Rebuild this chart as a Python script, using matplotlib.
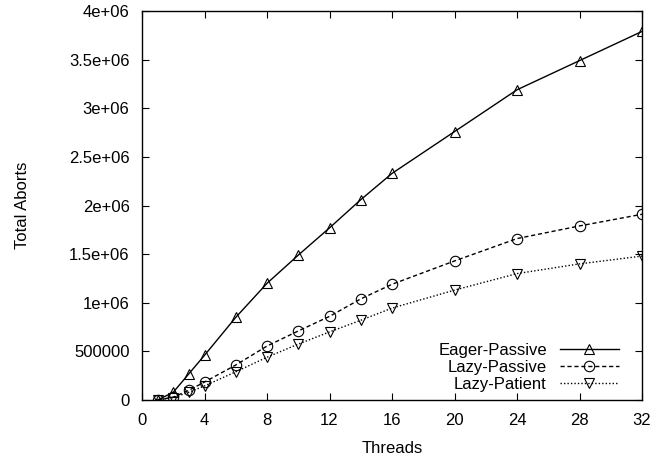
import matplotlib
matplotlib.use('Agg')
import matplotlib.pyplot as plt
import numpy as np

plt.rcParams['font.family'] = ['Liberation Sans', 'DejaVu Sans']

threads = [1, 2, 3, 4, 6, 8, 10, 12, 14, 16, 20, 24, 28, 32]
eager_passive = [0, 0.08e6, 0.27e6, 0.46e6, 0.85e6, 1.20e6, 1.49e6, 1.77e6,
                 2.06e6, 2.33e6, 2.76e6, 3.19e6, 3.49e6, 3.79e6]
lazy_passive = [0, 0.03e6, 0.10e6, 0.185e6, 0.36e6, 0.555e6, 0.71e6, 0.86e6,
                1.04e6, 1.19e6, 1.43e6, 1.66e6, 1.79e6, 1.91e6]
lazy_patient = [0, 0.025e6, 0.08e6, 0.145e6, 0.29e6, 0.44e6, 0.575e6, 0.70e6,
                0.82e6, 0.945e6, 1.13e6, 1.30e6, 1.40e6, 1.48e6]

fig = plt.figure(figsize=(6.5, 4.59), dpi=100)
ax = fig.add_axes([0.2185, 0.1285, 0.7692, 0.8475])

ms = 7.5
ax.plot(threads, eager_passive, '-', color='black', lw=1, marker='^', ms=ms,
        mfc='none', mec='black', mew=0.8, label='Eager-Passive')
ax.plot(threads, lazy_passive, '--', color='black', lw=1, marker='o', ms=ms,
        mfc='none', mec='black', mew=0.8, label='Lazy-Passive', dashes=(3, 2))
ax.plot(threads, lazy_patient, ':', color='black', lw=1, marker='v', ms=ms,
        mfc='none', mec='black', mew=0.8, label='Lazy-Patient', dashes=(1, 1.5))

ax.set_xlim(0, 32)
ax.set_ylim(0, 4e6)
ax.set_xticks(range(0, 33, 4))
yt = np.arange(0, 4.01e6, 0.5e6)
ax.set_yticks(yt)
ax.set_yticklabels(['0', '500000', '1e+06', '1.5e+06', '2e+06', '2.5e+06',
                    '3e+06', '3.5e+06', '4e+06'])
ax.tick_params(direction='in', top=True, right=True, length=5, labelsize=12)
ax.tick_params(axis='x', pad=9)
ax.tick_params(axis='y', pad=9)
for s in ax.spines.values():
    s.set_linewidth(1)

ax.set_xlabel('Threads', fontsize=12, labelpad=10)
ax.set_ylabel('Total Aborts', fontsize=12)
ax.yaxis.set_label_coords(-0.224, 0.5)

ax.legend(loc='lower right', bbox_to_anchor=(0.963, 0.007), frameon=False,
          markerfirst=False, fontsize=12, handlelength=3.5, labelspacing=0.12,
          borderaxespad=0, handletextpad=0.8, borderpad=0.3)

fig.savefig('out.png', dpi=100)
